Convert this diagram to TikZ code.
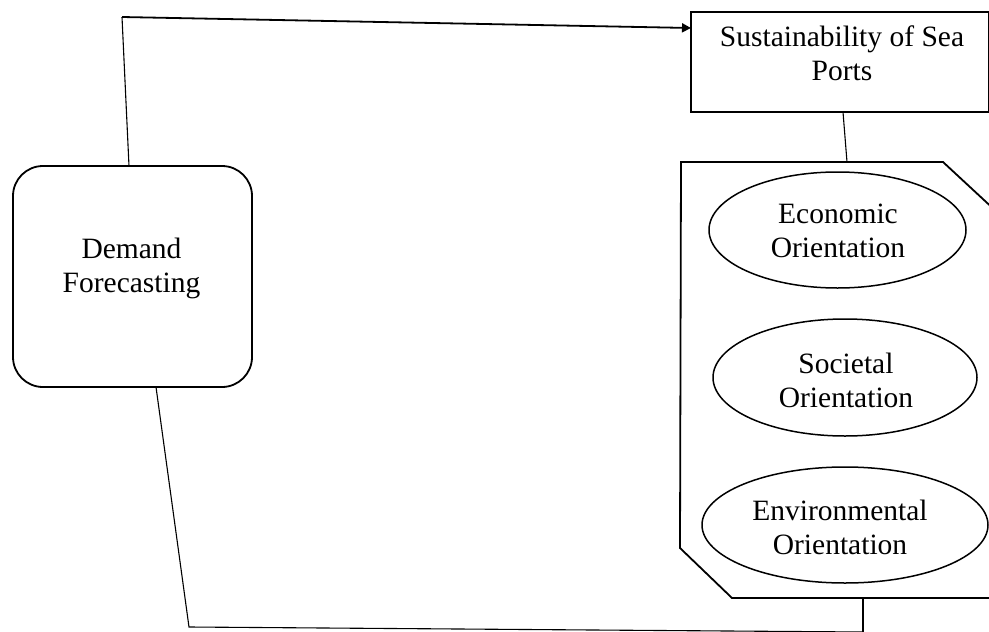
\documentclass[tikz,border=0pt]{standalone}
\usepackage{fontspec}
\setmainfont{Liberation Serif}
\usetikzlibrary{arrows.meta,calc,shapes.geometric}
\begin{document}
\begin{tikzpicture}[x=1pt,y=-1pt,
  boxline/.style={draw,line width=1.8pt},
  ell/.style={draw,ellipse,line width=1.5pt,inner sep=0pt},
  txt/.style={align=center,inner sep=0pt,font=\fontsize{29.5}{34}\selectfont},
  conn/.style={line width=1.1pt},
  arr/.style={line width=1.8pt,-{Triangle[length=9pt,width=9pt]}}]
\useasboundingbox (0,0) rectangle (989,632);
\clip (0,0) rectangle (989,632);
% Demand forecasting box
\node[boxline,rounded corners=30pt,minimum width=239pt,minimum height=221pt,inner sep=0pt] (df) at (132.5,276.5) {};
\node[txt] (dft) at (131.5,268.7) {Demand\\Forecasting};
% Sustainability box
\node[boxline,minimum width=298pt,minimum height=100pt,inner sep=0pt] (sp) at (840,62) {};
\node[txt] (spt) at (842,53.5) {Sustainability of Sea\\Ports};
% octagon container
\coordinate (o1) at (681,162);
\coordinate (o2) at (943,162);
\coordinate (o3) at (1012,226);
\coordinate (o4) at (1012,598);
\coordinate (o5) at (732,598);
\coordinate (o6) at (680,548);
\draw[line width=1.8pt] (o1) -- (o2) -- (o3) -- (o4) -- (o5) -- (o6) -- cycle;
% ellipses
\node[ell,minimum width=257pt,minimum height=116pt] (eco) at (837.5,230) {};
\node[txt] (ecot) at (838,231) {Economic\\Orientation};
\node[ell,minimum width=264pt,minimum height=117pt] (soc) at (845,377.5) {};
\node[txt] (soct) at (846,380) {Societal\\Orientation};
\node[ell,minimum width=286pt,minimum height=116pt] (env) at (845,525) {};
\node[txt] (envt) at (840,527.5) {Environmental\\Orientation};
% connectors
\coordinate (c1) at (122,17);
\coordinate (d1) at (129,166);
\coordinate (a1) at (691,28);
\draw[conn] (d1) -- (c1);
\draw[arr] (c1) -- (a1);
\coordinate (s1) at (843,112);
\coordinate (s2) at (847,162);
\draw[conn] (s1) -- (s2);
\coordinate (d2) at (156,387);
\coordinate (b1) at (189,627);
\coordinate (b2) at (863,632);
\coordinate (b3) at (863,598);
\draw[conn] (d2) -- (b1) -- (b2);
\draw[line width=1.6pt] (b3) -- (863,640);
\end{tikzpicture}
\end{document}
